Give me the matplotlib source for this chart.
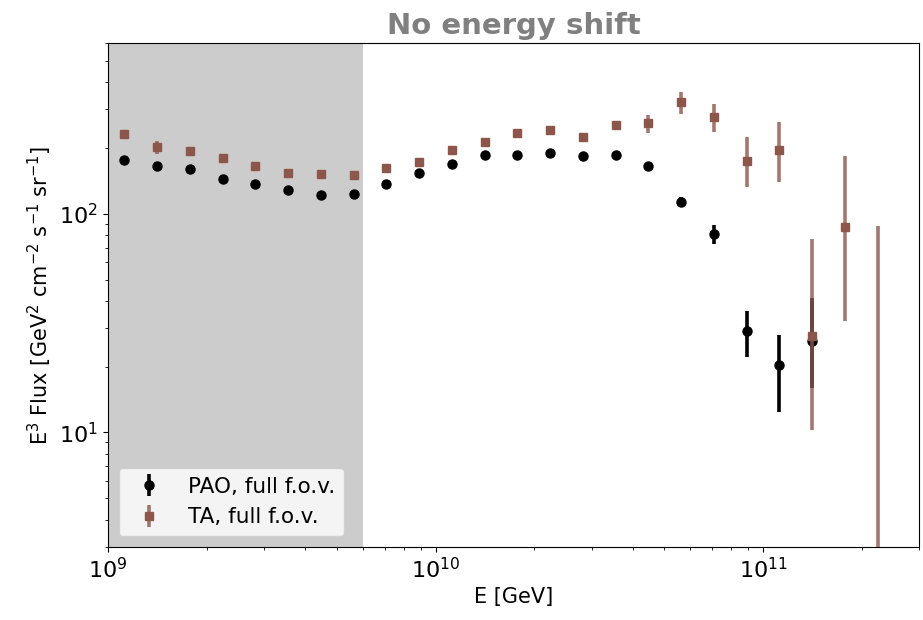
import numpy as np
import matplotlib
matplotlib.use("Agg")
import matplotlib.pyplot as plt

# bin centres, log10(E/GeV)
logE_pao = [9.05, 9.15, 9.25, 9.35, 9.45, 9.55, 9.65, 9.75, 9.85, 9.95, 10.05,
            10.15, 10.25, 10.35, 10.45, 10.55, 10.65, 10.75, 10.85, 10.95, 11.05, 11.15]
logE_ta = logE_pao + [11.25, 11.35]

# E^3 flux [GeV^2 cm^-2 s^-1 sr^-1]
pao_flux = [175.8, 165.5, 160.8, 144.7, 137.3, 128.0, 121.8, 123.5, 137.3, 154.2, 169.5,
            184.5, 184.5, 189.2, 183.4, 184.5, 164.3, 113.5, 81.0, 29.2, 20.4, 26.1]
pao_lo = [3, 3, 3, 2, 2, 2, 2, 2, 2, 2, 2,
          2, 2, 2, 2, 2, 3, 6, 8.6, 7.0, 8.0, 10.2]
pao_hi = [3, 3, 3, 2, 2, 2, 2, 2, 2, 2, 2,
          2, 2, 2, 2, 2, 3, 6, 7.7, 6.8, 7.6, 15.1]

ta_flux = [231.3, 200.8, 193.9, 178.7, 165.5, 154.2, 151.6, 150.0, 162.5, 171.4, 195.3,
           212.6, 234.6, 241.3, 224.8, 255.3, 258.7, 323.0, 277.8, 173.2, 195.3, 27.6,
           86.9, 1.0]
ta_lo = [7, 14, 4, 3, 3, 3, 3, 3, 3, 3, 3,
         3, 4, 4, 9, 10, 25.0, 37.4, 42.6, 40.2, 56.5, 17.3,
         54.7, 0.5]
ta_hi = [7, 14, 4, 3, 3, 3, 3, 3, 3, 3, 3,
         3, 4, 4, 9, 10, 23.9, 36.0, 39.8, 50.0, 66.1, 48.7,
         97.1, 86.8]

E_pao = [10**v for v in logE_pao]
E_ta = [10**v for v in logE_ta]

fig = plt.figure(figsize=(9.23, 6.2), dpi=100)
ax = fig.add_axes([0.117, 0.118, 0.879, 0.812])

ax.axvspan(1e9, 6e9, color='0.8', zorder=0, lw=0)

ax.errorbar(E_pao, pao_flux, yerr=[pao_lo, pao_hi], fmt='o', color='black',
            ms=6.5, elinewidth=2.6, capsize=0, label='PAO, full f.o.v.', zorder=2)
ta = ax.errorbar(E_ta, ta_flux, yerr=[ta_lo, ta_hi], fmt='s', color='tab:brown',
                 ms=6.2, elinewidth=2.6, capsize=0, label='TA, full f.o.v.', zorder=3)
for bc in ta[2]:
    bc.set_alpha(0.8)

ax.set_xscale('log')
ax.set_yscale('log')
ax.set_xlim(1e9, 3e11)
ax.set_ylim(3, 600)

ax.set_xlabel('E [GeV]', fontsize=15)
ax.set_ylabel(r'E$^3$ Flux [GeV$^2$ cm$^{-2}$ s$^{-1}$ sr$^{-1}$]', fontsize=15)
ax.tick_params(axis='both', which='major', labelsize=16)
ax.set_title('No energy shift', fontsize=21, fontweight='bold', color='gray', pad=7)

ax.legend(loc='lower left', fontsize=15.5)

fig.savefig('out.png', dpi=100)
